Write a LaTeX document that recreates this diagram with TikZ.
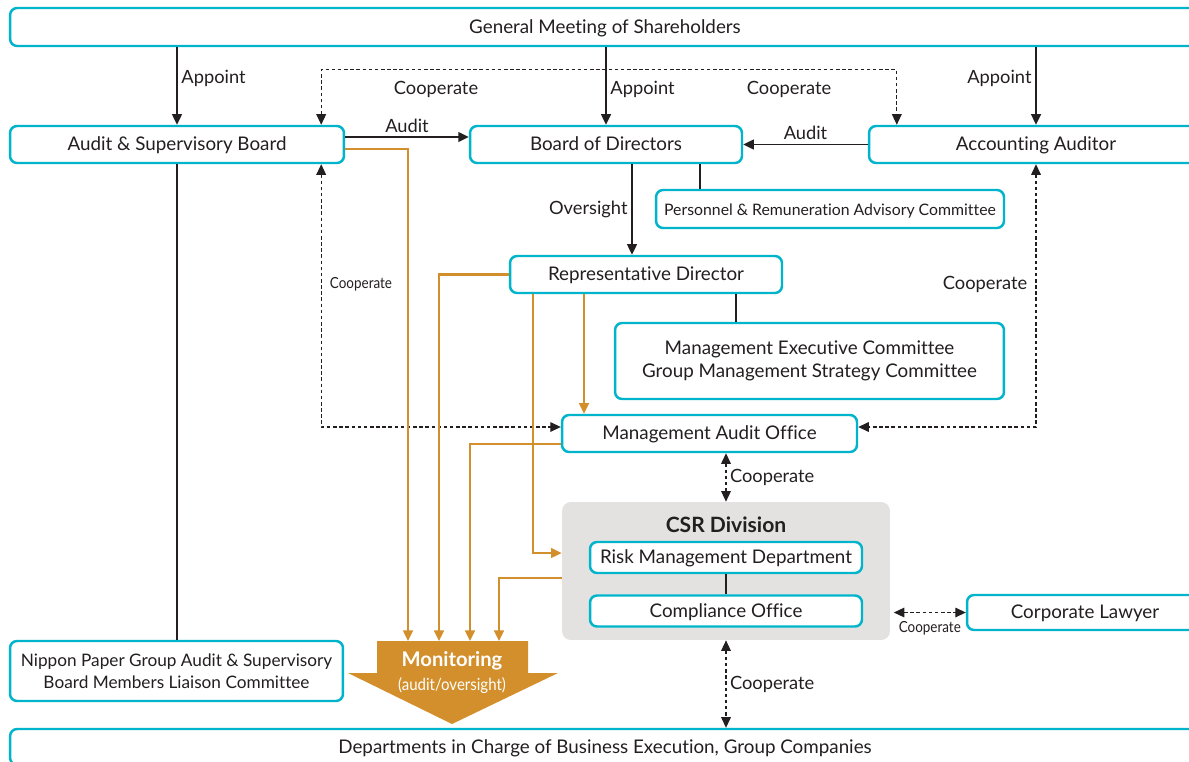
\documentclass[tikz,border=0pt]{standalone}
\usepackage{fontspec}
\setmainfont{Lato}[Ligatures=NoCommon]
\usepackage{tikz}
\usetikzlibrary{arrows.meta, positioning}
\definecolor{boxcyan}{HTML}{00B4CB}
\definecolor{monorange}{HTML}{D28F2B}
\definecolor{csrgray}{HTML}{E3E2E0}
\definecolor{txt}{HTML}{231F20}
\tikzset{
>={Triangle[length=6pt,width=5.5pt]}, % filled arrow heads
box/.style={draw=boxcyan, line width=1.4pt, rounded corners=4pt, fill=white, text=txt, inner sep=1pt, align=center, font=\fontsize{10.7}{13}\selectfont}, % cyan framed boxes
one/.style={text height=1.45ex, text depth=0pt}, % single line boxes, caps centred
link/.style={txt, line width=1.1pt}, % solid black connectors
coop/.style={txt, line width=0.6pt, dash pattern=on 2pt off 1.5pt, <->}, % cooperate lines
mon/.style={monorange, line width=1.2pt, ->}, % monitoring lines
lbl/.style={text=txt, inner sep=2pt, font=\fontsize{10.4}{12}\selectfont},
slbl/.style={text=txt, inner sep=2pt, font=\fontsize{8.7}{10}\selectfont, xscale=0.88},
}
\begin{document}
\begin{tikzpicture}[x=0.02cm, y=-0.02cm]
  \useasboundingbox (0,0) rectangle (1189,761);
  \clip (0,0) rectangle (1189,761);
  % boxes
  \node[box, one, minimum width=23.8cm, minimum height=0.76cm] (gms) at (605,27) {General Meeting of Shareholders};
  \node[box, one, minimum width=6.68cm, minimum height=0.74cm] (asb) at (177,144.5) {Audit \& Supervisory Board};
  \node[box, one, minimum width=5.44cm, minimum height=0.74cm] (bod) at (606,144.5) {Board of Directors};
  \node[box, one, minimum width=6.68cm, minimum height=0.74cm] (aa) at (1036,144.5) {Accounting Auditor};
  \node[box, one, minimum width=6.96cm, minimum height=0.76cm, font=\fontsize{9}{11}\selectfont] (prac) at (830,209) {Personnel \& Remuneration Advisory Committee};
  \node[box, one, minimum width=5.44cm, minimum height=0.74cm] (rd) at (646,274.5) {Representative Director};
  \node[box, minimum width=7.78cm, minimum height=1.52cm] (mec) at (809.5,361) {Management Executive Committee\\Group Management Strategy Committee};
  \node[box, one, minimum width=5.9cm, minimum height=0.74cm] (mao) at (709.5,433.5) {Management Audit Office};
  \node[fill=csrgray, rounded corners=5pt, minimum width=6.56cm, minimum height=2.76cm] (csr) at (726,571) {};
  \node[text=txt, font=\fontsize{12}{14}\selectfont\bfseries] (csrt) at (726,525) {CSR Division};
  \node[box, one, minimum width=5.44cm, minimum height=0.62cm] (rmd) at (726,557.5) {Risk Management Department};
  \node[box, one, minimum width=5.44cm, minimum height=0.62cm] (co) at (726,611) {Compliance Office};
  \node[box, one, minimum width=4.72cm, minimum height=0.7cm] (cl) at (1085,612.5) {Corporate Lawyer};
  \node[box, minimum width=6.66cm, minimum height=1.2cm, font=\fontsize{9.8}{12.2}\selectfont] (liaison) at (176.5,671) {Nippon Paper Group Audit \& Supervisory\\Board Members Liaison Committee};
  \node[box, one, minimum width=23.8cm, minimum height=0.72cm] (dept) at (605,747) {Departments in Charge of Business Execution, Group Companies};
  % monitoring arrow
  \fill[monorange] (377,641) -- (528,641) -- (528,673) -- (558,673) -- (452,724) -- (348,673) -- (377,673) -- cycle;
  \coordinate (montop) at (452,641);
  \node[text=white, font=\fontsize{11.5}{13}\selectfont\bfseries] (mont) at (452,661) {Monitoring};
  \node[text=white, font=\fontsize{9.5}{11}\selectfont, xscale=0.9] (mons) at (452,686) {(audit/oversight)};
  % appoint
  \draw[link, ->] (asb.north |- gms.south) -- (asb.north) node[lbl, right, pos=0.4] {Appoint};
  \draw[link, ->] (bod.north |- gms.south) -- (bod.north) node[lbl, right, pos=0.55] {Appoint};
  \draw[link, ->] (aa.north |- gms.south) -- (aa.north) node[lbl, left, pos=0.4] {Appoint};
  % audit
  \draw[link, ->] ([yshift=0.15cm]asb.east) -- ([yshift=0.15cm]asb.east -| bod.west) node[lbl, midway, above] {Audit};
  \draw[link, ->] (aa.west) -- (aa.west -| bod.east) node[lbl, midway, above] {Audit};
  \draw[link, ->] ([xshift=0.52cm]bod.south) -- ([xshift=0.52cm]bod.south |- rd.north) node[lbl, midway, left] {Oversight};
  \draw[link] ([xshift=1.88cm]bod.south) -- ([xshift=1.88cm]bod.south |- prac.north);
  \draw[link] ([xshift=1.8cm]rd.south) -- ([xshift=1.8cm]rd.south |- mec.north);
  \draw[link] (asb.south) -- (asb.south |- liaison.north);
  \draw[link] (rmd.south) -- (co.north);
  % cooperate
  \draw[coop] ([xshift=-0.48cm]asb.north east) -- ++(0,-55) -| ([xshift=0.58cm]aa.north west);
  \node[lbl] (cp1) at (436,89) {Cooperate};
  \node[lbl] (cp2) at (789,89) {Cooperate};
  \draw[coop] ([xshift=-0.48cm]asb.south east) |- ([yshift=0.13cm]mao.west);
  \node[slbl] (cp3) at (361,284) {Cooperate};
  \draw[coop] (aa.south) |- ([yshift=0.13cm]mao.east);
  \node[lbl] (cp4) at (985,284) {Cooperate};
  \draw[coop] (csr.north |- mao.south) -- (csr.north) node[lbl, midway, right] {Cooperate};
  \draw[coop] (csr.south) -- (csr.south |- dept.north) node[lbl, midway, right] {Cooperate};
  \draw[coop] ([xshift=2pt]csr.east |- cl.west) -- (cl.west) node[slbl, midway, below=3pt] {Cooperate};
  % monitoring lines
  \draw[mon] ([yshift=-0.09cm]asb.east) -| ([xshift=-0.88cm]montop);
  \draw[mon] (rd.west) -| ([xshift=-0.26cm]montop);
  \draw[mon] ([yshift=-0.21cm]mao.west) -| ([xshift=0.36cm]montop);
  \draw[mon] ([yshift=-0.14cm]csr.west) -| ([xshift=0.94cm]montop);
  \draw[mon] ([xshift=-2.26cm]rd.south) |- ([yshift=0.36cm]csr.west);
  \draw[mon] ([xshift=-1.24cm]rd.south) -- ([xshift=-1.24cm]rd.south |- mao.north);
\end{tikzpicture}
\end{document}
